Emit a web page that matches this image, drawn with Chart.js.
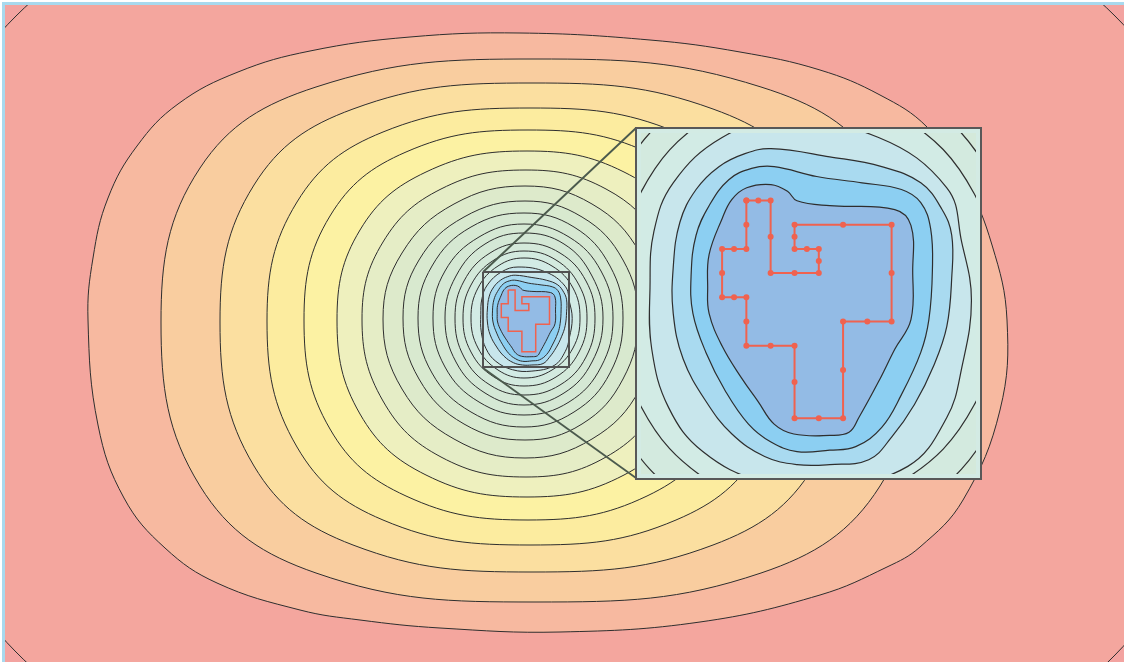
<!DOCTYPE html>
<html>
<head>
<meta charset="utf-8">
<script src="https://cdn.jsdelivr.net/npm/chart.js@4/dist/chart.umd.min.js"></script>
<style>
html,body{margin:0;padding:0;background:#ffffff;width:1124px;height:662px;overflow:hidden}
#frame{position:absolute;left:2px;top:2px;width:1122px;height:660px;border-top:3px solid #a8d9ee;border-left:3px solid #a8d9ee;box-sizing:border-box}
#main{position:absolute;left:5px;top:5px}
#insetBox{position:absolute;left:635px;top:127px;width:347px;height:353px;border:2px solid #585858;box-sizing:border-box;background:#d3ebe4}
#inset{position:absolute;left:0;top:0}
</style>
</head>
<body>
<div id="frame"></div>
<canvas id="main" width="1119" height="657"></canvas>
<div id="insetBox"><canvas id="inset" width="343" height="349"></canvas></div>
<script>
// ---- Map data (map units, x to the right, y downward) ----
// Outermost contour, only its corner pieces are visible
const contour00 = [[16,16],[330,-110],[800,-110],[1115,16],[1240,330],[1115,655],[800,780],[330,780],[15,651],[-110,330]];
const contour01 = [[88,320],[93,258],[108,198],[137,146],[178,104],[238,72],[310,51],[410,37],[520,33],[650,40],[740,52],[820,70],[880,95],[927,127],[965,180],[992,245],[1007,320],[1000,410],[963,500],[920,547],[887,567],[820,595],[700,622],[560,632],[440,628],[360,620],[300,610],[217,583],[165,548],[124,498],[98,425]];
const contour02 = [[920,322],[880,486],[761,573],[535,602],[316,573],[200,486],[161,322],[200,168],[316,87],[535,59],[761,87],[880,168]];
const contour03 = [[848,322],[814,466],[713,545],[532,572],[353,545],[254,466],[220,322],[254,185],[353,109],[532,83],[713,109],[814,185]];
const contour04 = [[790,321],[761,447],[676,520],[530,545],[383,520],[297,447],[267,321],[297,202],[383,132],[530,108],[676,132],[761,202]];
const contour05 = [[745,320],[719,429],[647,496],[528,520],[406,496],[330,429],[304,320],[330,216],[406,152],[528,130],[647,152],[719,216]];
const contour06 = [[708,320],[686,414],[624,475],[527,497],[426,475],[360,414],[337,320],[360,230],[426,172],[527,151],[624,172],[686,230]];
const contour07 = [[680,319],[660,401],[606,457],[526,477],[441,457],[383,401],[362,319],[383,242],[441,189],[526,170],[606,189],[660,242]];
const contour08 = [[658,319],[640,389],[592,439],[525,458],[454,439],[402,389],[383,319],[402,253],[454,204],[525,186],[592,204],[640,253]];
const contour09 = [[638,318],[623,379],[582,424],[525,440],[464,424],[419,379],[403,318],[419,260],[464,217],[525,201],[582,217],[623,260]];
const contour10 = [[623,318],[610,373],[574,412],[524,427],[471,412],[432,373],[418,318],[432,266],[471,227],[524,213],[574,227],[610,266]];
const contour11 = [[613,318],[601,367],[569,402],[524,415],[479,402],[445,367],[433,318],[445,271],[479,237],[524,224],[569,237],[601,271]];
const contour12 = [[603,318],[592,362],[564,393],[524,405],[485,393],[456,362],[445,318],[456,276],[485,244],[524,233],[564,244],[592,276]];
const contour13 = [[595,318],[586,357],[560,385],[524,395],[490,385],[464,357],[455,318],[464,281],[490,253],[524,243],[560,253],[586,281]];
const contour14 = [[587,318],[579,352],[556,377],[524,386],[494,377],[471,352],[463,318],[471,285],[494,260],[524,251],[556,260],[579,285]];
const contour15 = [[580,318],[573,348],[552,370],[524,378],[498,370],[478,348],[471,318],[478,288],[498,266],[524,258],[552,266],[573,288]];
const contour16 = [[518.0,267.0],[545.8,272.0],[565.2,286.3],[569.4,301.6],[572.2,318.3],[569.4,337.7],[565.2,351.6],[554.1,365.5],[531.9,371.1],[512.4,369.7],[495.8,361.3],[486.1,348.8],[481.3,332.2],[480.8,314.7],[481.9,298.8],[487.4,284.9],[501.3,272.0]];
const contour17 = [[507.8,276.6],[515.2,275.2],[531.9,277.5],[546.7,280.3],[557.8,284.9],[563.8,292.4],[566.6,299.8],[566.6,311.8],[565.2,325.7],[561.5,336.8],[556.0,347.9],[549.5,357.2],[543.0,363.6],[531.9,365.0],[522.6,365.0],[513.4,362.7],[504.1,356.3],[496.7,347.0],[490.2,334.9],[487.4,322.0],[487.4,309.0],[489.3,296.1],[493.9,286.8],[500.4,280.3]];
const contour18 = [[509.7,280.8],[516.1,280.3],[528.2,283.1],[541.1,284.9],[552.3,286.8],[557.8,290.5],[560.6,297.9],[561.1,309.9],[560.1,323.8],[557.8,333.1],[552.3,345.1],[546.7,354.4],[539.3,359.9],[531.9,360.9],[522.6,361.3],[515.2,358.6],[508.8,353.5],[502.3,344.2],[496.7,333.1],[493.0,322.0],[492.5,310.9],[493.9,299.8],[497.6,291.4],[503.2,284.0]];
const contour19 = [[508.3,286.3],[515.2,285.4],[519.9,287.3],[522.6,290.0],[531.9,291.4],[550.4,292.5],[555.0,297.0],[555.5,309.9],[555.0,323.8],[550.4,332.2],[545.8,341.4],[540.2,351.6],[537.4,355.8],[531.9,356.7],[521.7,356.3],[516.1,353.5],[511.5,347.0],[506.9,340.5],[501.3,331.3],[497.6,322.0],[497.2,314.6],[497.6,305.3],[501.3,295.1],[504.1,289.6]];

// Red traced outline (closed)
const tracePath = [[508.2,289.9],[511.6,289.9],[515.1,289.9],[515.1,300.2],[515.1,310.5],[521.9,310.5],[528.8,310.5],[528.8,307.1],[528.8,303.7],[525.4,303.7],[521.9,303.7],[521.9,300.2],[521.9,296.8],[535.7,296.8],[549.5,296.8],[549.5,310.5],[549.5,324.3],[542.6,324.3],[535.7,324.3],[535.7,338.1],[535.7,351.8],[528.8,351.8],[521.9,351.8],[521.9,341.5],[521.9,331.2],[515.1,331.2],[508.2,331.2],[508.2,324.3],[508.2,317.4],[504.7,317.4],[501.3,317.4],[501.3,310.5],[501.3,303.7],[504.7,303.7],[508.2,303.7],[508.2,296.8],[508.2,289.9]];

// Zoom frame in the main map and connector lines to the inset
const zoomBox = [[483,272],[569,272],[569,367],[483,367],[483,272]];
const connectorTop = [[483,272],[636,128]];
const connectorBottom = [[483,368],[636,478]];

// Extents
const mainXRange = [5,1124];
const mainYRange = [5,662];
const insetXRange = [478.24,573.5];
const insetYRange = [270.73,367.67];

// ---- Styles ----
const contourLevels = [contour00,contour01,contour02,contour03,contour04,contour05,contour06,contour07,contour08,contour09,contour10,contour11,contour12,contour13,contour14,contour15,contour16,contour17,contour18,contour19];
const bandColours = ['#f4a69e','#f7b9a0','#f9cd9f','#fbdfa0','#fcec9f','#fcf2a3','#eef0be','#e5edc6','#ddeacb','#d8e9cf','#d6e8d2','#d5e8d4','#d4e8d6','#d4e9da','#d3eadf','#d2ebe5','#c8e6ec','#a9daf0','#8ccff2','#93bbe5'];
const cornerColour = '#f3a3a0';
const LINE = '#2e2e2e';
const TRACE = '#f0624f';

const xy = pts => pts.map(p => ({x:p[0], y:p[1]}));

function closedContour(pts, fillColour, width, order){
  const n = pts.length;
  const wrapped = [pts[n-1], ...pts, pts[0], pts[1]];
  return {
    data: xy(wrapped), fill: 'shape', backgroundColor: fillColour,
    borderColor: LINE, borderWidth: width, pointRadius: 0, tension: 0.4, order,
    segment: { borderColor: c => (c.p0DataIndex === 0 || c.p0DataIndex === n + 1) ? 'rgba(0,0,0,0)' : LINE }
  };
}

const bgPlugin = {
  id: 'bg',
  beforeDraw(chart, args, opts){
    const a = chart.chartArea, ctx = chart.ctx;
    ctx.save(); ctx.fillStyle = opts.color; ctx.fillRect(a.left, a.top, a.right - a.left, a.bottom - a.top); ctx.restore();
  }
};

function baseOptions(xr, yr, bg){
  return {
    responsive: false, animation: false, events: [],
    layout: { padding: 0 },
    elements: { line: { capBezierPoints: false } },
    plugins: { legend: { display: false }, tooltip: { enabled: false }, bg: { color: bg } },
    scales: {
      x: { type: 'linear', display: false, min: xr[0], max: xr[1] },
      y: { type: 'linear', display: false, min: yr[0], max: yr[1], reverse: true }
    }
  };
}

const mainSets = [
  { data: xy(tracePath), borderColor: TRACE, borderWidth: 1.5, pointRadius: 0, fill: false, tension: 0, order: 0 },
  { data: xy(zoomBox), borderColor: '#525252', borderWidth: 2, pointRadius: 0, fill: false, tension: 0, order: 1 },
  { data: xy(connectorTop), borderColor: '#4b5a4d', borderWidth: 1.8, pointRadius: 0, fill: false, tension: 0, order: 2 },
  { data: xy(connectorBottom), borderColor: '#4b5a4d', borderWidth: 1.8, pointRadius: 0, fill: false, tension: 0, order: 2 },
  ...contourLevels.map((c, i) => closedContour(c, bandColours[i], 1, 100 - i))
];

new Chart(document.getElementById('main'), {
  type: 'line',
  data: { datasets: mainSets },
  options: baseOptions(mainXRange, mainYRange, cornerColour),
  plugins: [bgPlugin]
});

const insetSets = [
  { data: xy(tracePath), borderColor: TRACE, borderWidth: 2, pointRadius: 3, pointBackgroundColor: TRACE, pointBorderWidth: 0, fill: false, tension: 0, order: 0 },
  ...contourLevels.map((c, i) => closedContour(c, bandColours[i], 1.2, 100 - i))
];

new Chart(document.getElementById('inset'), {
  type: 'line',
  data: { datasets: insetSets },
  options: baseOptions(insetXRange, insetYRange, cornerColour),
  plugins: [bgPlugin]
});
</script>
</body>
</html>
